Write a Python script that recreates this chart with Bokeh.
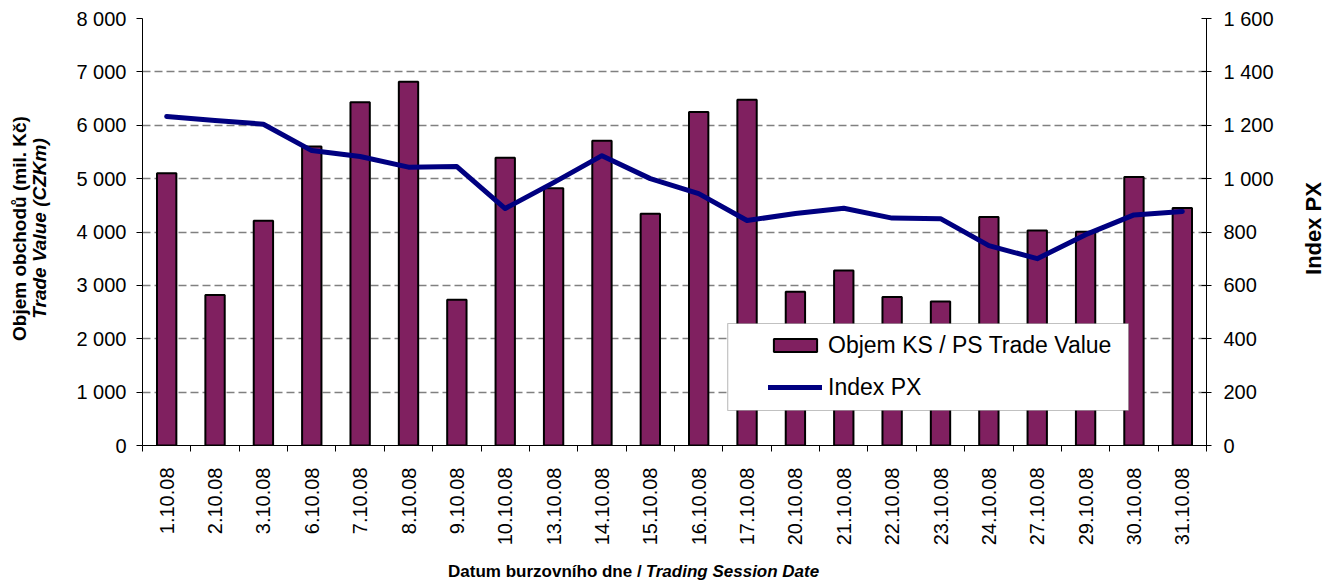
import math
from bokeh.plotting import figure
from bokeh.models import (Range1d, LinearAxis, FixedTicker, Label, Legend, LegendItem,
                          BoxAnnotation, Grid)
from bokeh.layouts import row, column
from bokeh.embed import file_html
from bokeh.resources import INLINE

# ---- data ----
dates = ["1.10.08", "2.10.08", "3.10.08", "6.10.08", "7.10.08", "8.10.08", "9.10.08",
         "10.10.08", "13.10.08", "14.10.08", "15.10.08", "16.10.08", "17.10.08",
         "20.10.08", "21.10.08", "22.10.08", "23.10.08", "24.10.08", "27.10.08",
         "29.10.08", "30.10.08", "31.10.08"]
trade_value = [5100, 2820, 4210, 5600, 6430, 6815, 2730, 5390, 4820, 5710, 4340,
               6250, 6480, 2880, 3280, 2780, 2700, 4280, 4030, 4005, 5030, 4450]
index_px = [1233, 1218, 1204, 1105, 1083, 1043, 1045, 888, 985, 1086, 1000,
            944, 843, 869, 889, 852, 850, 749, 700, 790, 864, 877]
left_ticks = [0, 1000, 2000, 3000, 4000, 5000, 6000, 7000, 8000]
left_tick_labels = ["0", "1 000", "2 000", "3 000", "4 000", "5 000", "6 000", "7 000", "8 000"]
right_ticks = [0, 200, 400, 600, 800, 1000, 1200, 1400, 1600]
right_tick_labels = ["0", "200", "400", "600", "800", "1 000", "1 200", "1 400", "1 600"]

xs = list(range(len(dates)))
FONT = "Liberation Sans"
BAR = "#802060"
LINE = "#000080"

W, H = 1328, 582
LW, RW, BH = 56, 28, 30          # side strips for the axis titles
MW, MH = W - LW - RW, H - BH     # main figure size


def blank(w, h):
    f = figure(width=w, height=h, output_backend="svg", toolbar_location=None,
               x_range=Range1d(0, w), y_range=Range1d(h, 0),
               x_axis_type=None, y_axis_type=None, min_border=0)
    f.outline_line_color = None
    f.grid.visible = False
    f.border_fill_color = "white"
    return f


p = figure(width=MW, height=MH, output_backend="svg", toolbar_location=None,
           x_range=Range1d(-0.5, len(dates) - 0.5), y_range=Range1d(left_ticks[0], left_ticks[-1]),
           x_axis_type=None, y_axis_type=None,
           min_border_left=86, min_border_right=94, min_border_top=18, min_border_bottom=107)
p.outline_line_color = None
p.extra_y_ranges = {"px": Range1d(right_ticks[0], right_ticks[-1])}

# bottom axis: labels at centres, ticks at category boundaries (minor ticks)
xaxis = LinearAxis(ticker=FixedTicker(ticks=xs, minor_ticks=[i - 0.5 for i in range(len(dates) + 1)]))
xaxis.major_label_overrides = {i: d for i, d in enumerate(dates)}
xaxis.major_label_orientation = math.pi / 2
xaxis.major_tick_out = 0
xaxis.major_tick_in = 0
xaxis.minor_tick_out = 6
xaxis.minor_tick_in = 0
xaxis.minor_tick_line_color = "black"
xaxis.axis_line_color = "black"
xaxis.major_label_standoff = 16
xaxis.major_label_text_font = FONT
xaxis.major_label_text_font_size = "20px"
xaxis.major_label_text_color = "black"
p.add_layout(xaxis, "below")

yaxis = LinearAxis(ticker=FixedTicker(ticks=left_ticks, minor_ticks=[]))
yaxis.major_label_overrides = dict(zip(left_ticks, left_tick_labels))
yaxis.major_tick_out = 6
yaxis.major_tick_in = 0
yaxis.major_label_standoff = 10
yaxis.major_label_text_font = FONT
yaxis.major_label_text_font_size = "20px"
yaxis.major_label_text_color = "black"
yaxis.axis_line_color = "black"
p.add_layout(yaxis, "left")

raxis = LinearAxis(y_range_name="px", ticker=FixedTicker(ticks=right_ticks, minor_ticks=[]))
raxis.major_label_overrides = dict(zip(right_ticks, right_tick_labels))
raxis.major_tick_out = 5
raxis.major_tick_in = 5
raxis.major_label_standoff = 12
raxis.major_label_text_font = FONT
raxis.major_label_text_font_size = "20px"
raxis.major_label_text_color = "black"
raxis.axis_line_color = "black"
p.add_layout(raxis, "right")

grid = Grid(dimension=1, ticker=FixedTicker(ticks=left_ticks[1:]),
            grid_line_color="#808080", grid_line_dash="8 4", grid_line_width=1.3)
p.add_layout(grid)

bars = p.vbar(x=xs, top=trade_value, width=0.4, fill_color=BAR, line_color="black", line_width=2)
line = p.line(x=xs, y=index_px, y_range_name="px", line_color=LINE, line_width=5,
              line_cap="round", line_join="round")

# legend frame
box = BoxAnnotation(left=11.6, right=19.89, top=2286, bottom=656,
                    fill_color="white", fill_alpha=1.0, line_color="#333333", line_width=1.2)
p.add_layout(box)

legend = Legend(items=[LegendItem(label="Objem KS / PS Trade Value", renderers=[bars]),
                       LegendItem(label="Index PX", renderers=[line])],
                location=(626, 43), orientation="vertical",
                background_fill_alpha=0, border_line_color=None,
                padding=0, margin=0, spacing=12, label_height=30,
                glyph_height=16, glyph_width=54, label_standoff=6,
                label_text_font=FONT, label_text_font_size="23px", label_text_color="black")
p.add_layout(legend, "center")


# axis titles in side strips
def title(f, x, y, text, size, angle=0.0, style="bold", align="center"):
    f.add_layout(Label(x=x, y=y, text=text, angle=angle, text_align=align, text_baseline="middle",
                       text_font=FONT, text_font_size=size, text_font_style=style,
                       text_color="black"))


pl = blank(LW, H)
title(pl, 19, 228, "Objem obchodů (mil. Kč)", "19px", angle=math.pi / 2)
title(pl, 39, 228, "Trade Value (CZKm)", "19px", angle=math.pi / 2, style="bold italic")

pr = blank(RW, H)
title(pr, 13, 228, "Index PX", "22px", angle=math.pi / 2)

pb = blank(MW, BH)
title(pb, 583.6, 19, "Datum burzovního dne /", "17px", align="right")
title(pb, 588.3, 19, "Trading Session Date", "17px", align="left", style="bold italic")

layout = row(pl, column(p, pb), pr)

open("out.html", "w").write(file_html(layout, INLINE))
